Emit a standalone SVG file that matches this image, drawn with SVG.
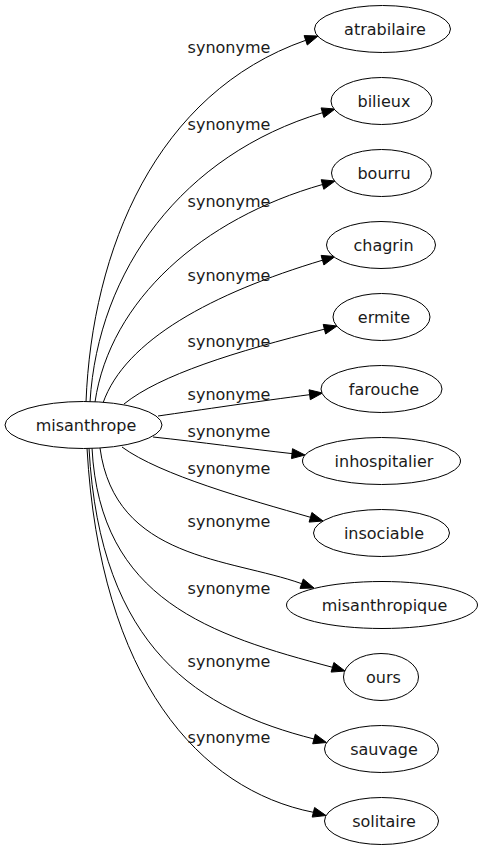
<svg xmlns="http://www.w3.org/2000/svg" width="482" height="851" viewBox="0 0 482 851">
<style>
  .node ellipse { fill: #ffffff; stroke: #000000; stroke-width: 1; }
  text { font-family: "DejaVu Sans", Verdana, sans-serif; font-size: 16px; fill: #1a1a1a; text-anchor: middle; }
  .edge path { fill: none; stroke: #000000; stroke-width: 1; }
  .edge polygon { fill: #000000; stroke: #000000; stroke-width: 1; }
</style>
<rect width="482" height="851" fill="#ffffff"/>
<g id="edges">
  <g class="edge"><path d="M86,402 C92,250 155.7,92.8 305.7,40.3"/><polygon points="318,36 304.1,35.6 307.3,45"/><text x="229" y="53">synonyme</text></g>
  <g class="edge"><path d="M90,402 C98,270 182.5,154.7 322.5,112.7"/><polygon points="335,109 321.1,107.9 323.9,117.5"/><text x="229" y="130">synonyme</text></g>
  <g class="edge"><path d="M95,402 C110,300 202.5,218.5 322.5,184.5"/><polygon points="335,181 321.2,179.7 323.8,189.3"/><text x="229" y="207">synonyme</text></g>
  <g class="edge"><path d="M103,403 C125,340 212.5,293.2 322.5,260.2"/><polygon points="335,256.5 321.1,255.4 323.9,265"/><text x="229" y="281">synonyme</text></g>
  <g class="edge"><path d="M124,404 C160,375 234.4,351.7 324.4,329.2"/><polygon points="337,326 323.2,324.4 325.6,334"/><text x="229" y="347">synonyme</text></g>
  <g class="edge"><path d="M158,416 C200,410 260,401 309.6,394.7"/><polygon points="322.5,393 309,389.8 310.3,399.7"/><text x="229" y="400">synonyme</text></g>
  <g class="edge"><path d="M153,437 C200,442 250,449 292,453.6"/><polygon points="305,455 292.5,448.7 291.5,458.6"/><text x="229" y="437">synonyme</text></g>
  <g class="edge"><path d="M122,447 C160,475 250,500 310.5,517.3"/><polygon points="323,521 311.9,512.5 309.1,522.1"/><text x="229" y="474">synonyme</text></g>
  <g class="edge"><path d="M100,448 C115,560 230,558 301.7,583.7"/><polygon points="314,588 303.3,579 300,588.4"/><text x="229" y="527">synonyme</text></g>
  <g class="edge"><path d="M92,448 C100,600 210,635 332.5,667.3"/><polygon points="345,671 333.9,662.5 331.1,672.1"/><text x="229" y="594">synonyme</text></g>
  <g class="edge"><path d="M89,448 C100,650 200,710 314,739"/><polygon points="326.5,742.5 315.3,734.2 312.7,743.8"/><text x="229" y="667">synonyme</text></g>
  <g class="edge"><path d="M87,448 C100,680 200,790 313.4,812.3"/><polygon points="326,815.5 314.6,807.5 312.2,817.1"/><text x="229" y="743">synonyme</text></g>
</g>
<g id="misanthrope" class="node"><ellipse cx="83.5" cy="425" rx="78.5" ry="23.5"/><text x="86" y="431">misanthrope</text></g>
<g id="atrabilaire" class="node"><ellipse cx="382.5" cy="29" rx="68" ry="23.5"/><text x="385" y="35">atrabilaire</text></g>
<g id="bilieux" class="node"><ellipse cx="381.5" cy="101" rx="50.5" ry="23.5"/><text x="384" y="107">bilieux</text></g>
<g id="bourru" class="node"><ellipse cx="381.5" cy="173" rx="50" ry="23.5"/><text x="384" y="179">bourru</text></g>
<g id="chagrin" class="node"><ellipse cx="381" cy="245" rx="54.5" ry="23.5"/><text x="383.5" y="251">chagrin</text></g>
<g id="ermite" class="node"><ellipse cx="381.5" cy="317" rx="48.5" ry="23.5"/><text x="384" y="323">ermite</text></g>
<g id="farouche" class="node"><ellipse cx="381.5" cy="389" rx="60.5" ry="23.5"/><text x="384" y="395">farouche</text></g>
<g id="inhospitalier" class="node"><ellipse cx="381.5" cy="461" rx="79" ry="23.5"/><text x="384" y="467">inhospitalier</text></g>
<g id="insociable" class="node"><ellipse cx="381.5" cy="533" rx="68" ry="23.5"/><text x="384" y="539">insociable</text></g>
<g id="misanthropique" class="node"><ellipse cx="382" cy="605" rx="95.5" ry="23.5"/><text x="384.5" y="611">misanthropique</text></g>
<g id="ours" class="node"><ellipse cx="381" cy="677" rx="37.5" ry="23.5"/><text x="383.5" y="683">ours</text></g>
<g id="sauvage" class="node"><ellipse cx="381.5" cy="749" rx="57" ry="23.5"/><text x="384" y="755">sauvage</text></g>
<g id="solitaire" class="node"><ellipse cx="381.5" cy="821" rx="57" ry="23.5"/><text x="384" y="827">solitaire</text></g>
</svg>
